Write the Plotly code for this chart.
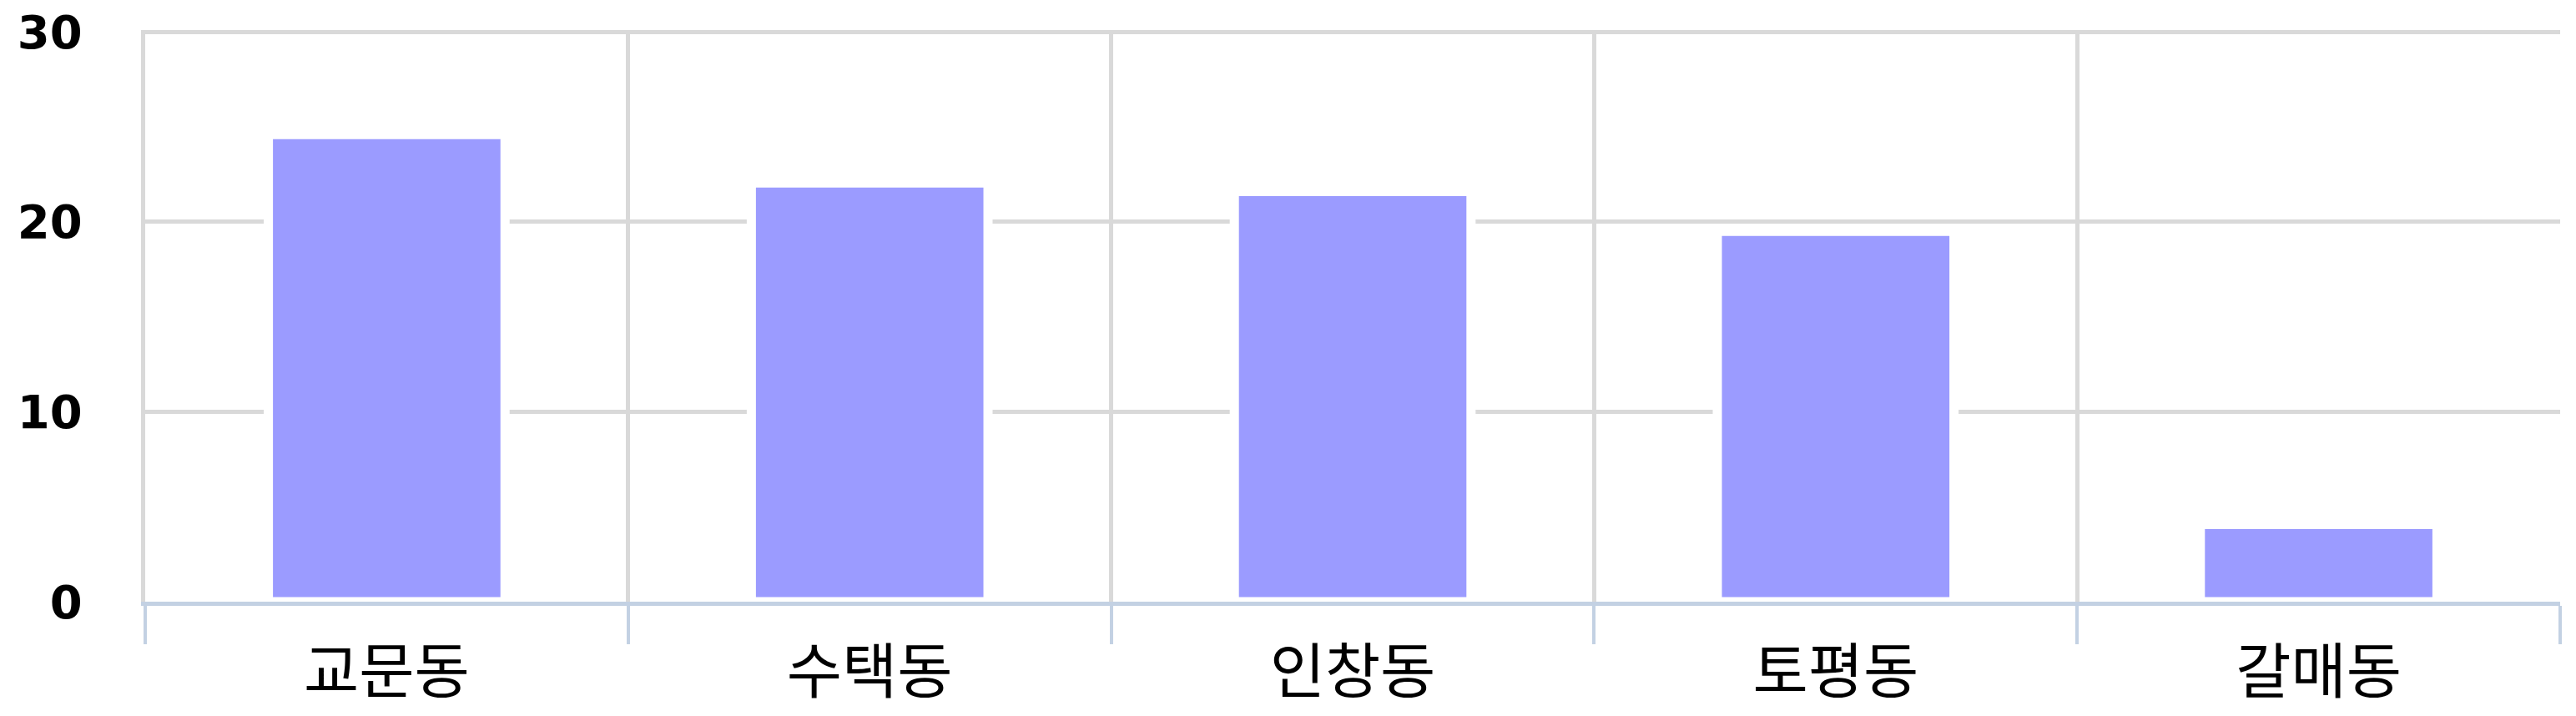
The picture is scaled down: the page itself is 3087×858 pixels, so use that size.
import plotly.graph_objects as go

categories = ["교문동", "수택동", "인창동", "토평동", "갈매동"]
values = [24.6, 22.05, 21.6, 19.5, 4.07]
y_tick_values = [0, 10, 20, 30]
y_tick_labels = ["0", "10", "20", "30"]
y_range = [0, 30.1]

GRID = "#d9d9d9"
AXIS = "#c3d1e3"

fig = go.Figure(
    go.Bar(
        x=categories,
        y=values,
        width=0.49,
        marker=dict(color="#9b9bff", line=dict(color="white", width=11)),
        hoverinfo="x+y",
    )
)

fig.update_layout(
    width=3079,
    height=850,
    margin=dict(l=166, r=19, t=28, b=137, pad=0),
    paper_bgcolor="white",
    plot_bgcolor="white",
    showlegend=False,
)

fig.update_xaxes(
    type="category",
    automargin=False,
    tickson="boundaries",
    showgrid=True,
    gridcolor=GRID,
    gridwidth=5,
    showline=True,
    linecolor=AXIS,
    linewidth=5,
    ticks="outside",
    ticklen=46,
    tickwidth=4,
    tickcolor=AXIS,
    ticklabelstandoff=18,
    tickfont=dict(family="Noto Sans CJK KR", size=72, color="#000000"),
    zeroline=False,
)

fig.update_yaxes(
    range=y_range,
    automargin=False,
    tickvals=y_tick_values,
    ticktext=y_tick_labels,
    ticklabeloverflow="allow",
    showgrid=True,
    gridcolor=GRID,
    gridwidth=5,
    showline=True,
    linecolor=GRID,
    linewidth=5,
    zeroline=False,
    ticks="",
    ticklabelstandoff=59,
    tickfont=dict(family="DejaVu Sans", size=56, color="#000000", weight="bold"),
)

fig.write_html("out.html")
